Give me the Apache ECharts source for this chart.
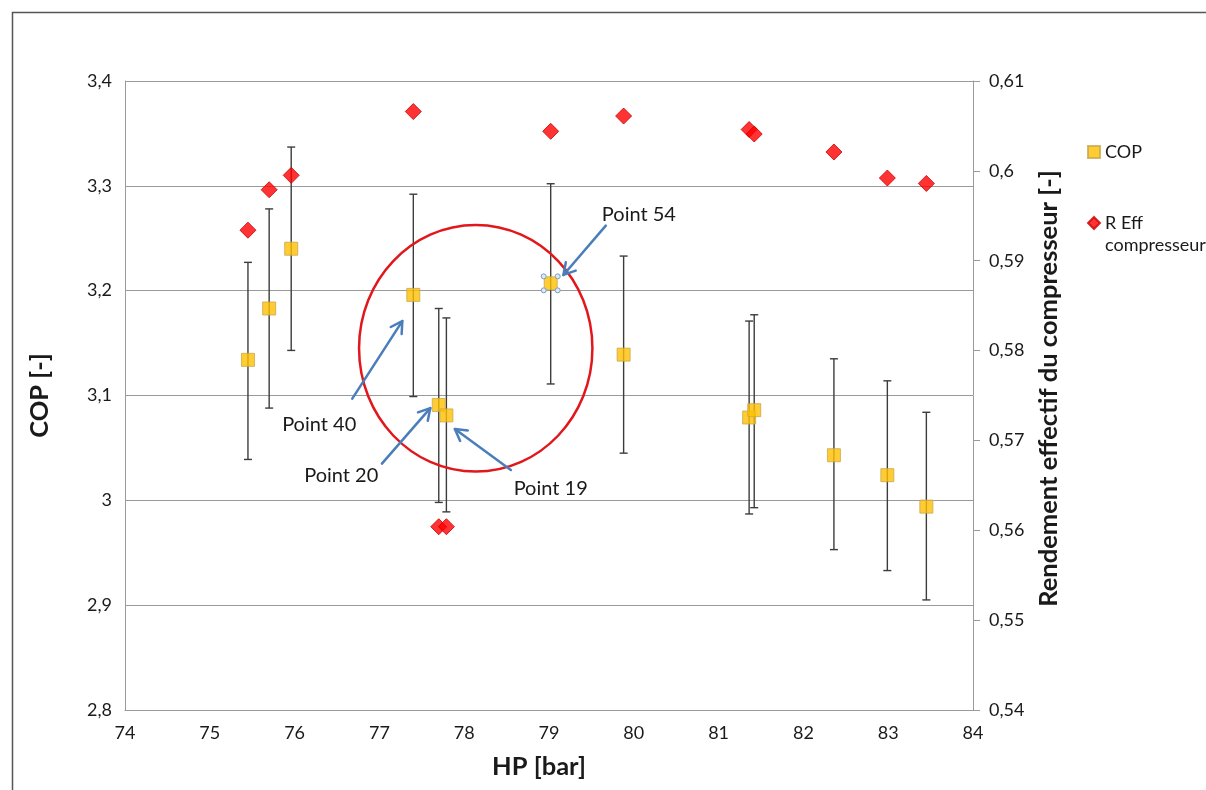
<!DOCTYPE html>
<html><head><meta charset="utf-8">
<script src="https://cdn.jsdelivr.net/npm/echarts@6/dist/echarts.min.js"></script>
<style>html,body{margin:0;padding:0;background:#fff}#c{width:1206px;height:790px}</style>
</head><body><div id="c"></div>
<script>
// ---- data ----
const hp      = [75.45, 75.70, 75.96, 77.40, 77.70, 77.79, 79.02, 79.88, 81.36, 81.42, 82.36, 82.99, 83.45];
const cop     = [3.134, 3.183, 3.240, 3.196, 3.091, 3.081, 3.207, 3.139, 3.079, 3.086, 3.043, 3.024, 2.994];
const copLow  = [3.039, 3.088, 3.143, 3.099, 2.998, 2.989, 3.111, 3.045, 2.987, 2.993, 2.953, 2.933, 2.905];
const copHigh = [3.227, 3.278, 3.337, 3.292, 3.183, 3.174, 3.302, 3.233, 3.171, 3.177, 3.135, 3.114, 3.084];
const rEff    = [0.5934, 0.5979, 0.5995, 0.6066, 0.5604, 0.5604, 0.6044, 0.6061, 0.6046, 0.6041, 0.6021, 0.5992, 0.5986];
const selectedIndex = 6; // Point 54

const annotationLabels = ['Point 40', 'Point 20', 'Point 19', 'Point 54'];
const labelX   = [76.29, 76.55, 79.02, 80.06];
const labelY   = [3.072, 3.024, 3.011, 3.273];
const arrowFromX = [76.68, 77.03, 78.55, 79.67];
const arrowFromY = [3.097, 3.035, 3.029, 3.262];
const arrowToX   = [77.27, 77.60, 77.89, 79.17];
const arrowToY   = [3.171, 3.088, 3.068, 3.215];
const ellipseCenter = [78.136, 3.145];
const ellipseRadius = [1.376, 0.1176];

// ---- build ----
const FONT = 'Lato';
const TXT = '#1a1a1a';
const GRID = '#9a9a9a';

const copData = hp.map((x, i) => [x, cop[i]]);
const effData = hp.map((x, i) => [x, rEff[i]]);
const errData = hp.map((x, i) => [x, copLow[i], copHigh[i]]);
const arrowData = arrowFromX.map((x, i) => [x, arrowFromY[i], arrowToX[i], arrowToY[i]]);
const labelData = labelX.map((x, i) => [x, labelY[i], annotationLabels[i]]);

const fmtComma = (d) => v => String(Math.round(v * d) / d).replace('.', ',');

const chart = echarts.init(document.getElementById('c'), null, {renderer: 'canvas'});
chart.setOption({
  backgroundColor: '#fff',
  animation: false,
  graphic: [{
    type: 'rect', silent: true, z: -10,
    shape: {x: 12.5, y: 12.5, width: 1400, height: 1000},
    style: {fill: 'none', stroke: '#555', lineWidth: 1.5}
  }],
  grid: {left: 125, right: 233, top: 81, bottom: 80, containLabel: false},
  legend: [{
    orient: 'vertical', left: 1082, top: 138,
    itemWidth: 12, itemHeight: 12,
    data: [{name: 'COP', icon: 'rect'}],
    textStyle: {fontFamily: FONT, fontSize: 18, color: TXT}
  }, {
    orient: 'vertical', left: 1082, top: 185,
    itemWidth: 12, itemHeight: 12,
    data: [{name: 'R Eff compresseur', icon: 'diamond'}],
    formatter: () => ' \nR Eff\ncompresseur',
    textStyle: {fontFamily: FONT, fontSize: 18, color: TXT, lineHeight: 22}
  }],
  xAxis: {
    type: 'value', min: 74, max: 84, interval: 1,
    name: 'HP [bar]', nameLocation: 'middle', nameGap: 44,
    nameTextStyle: {fontFamily: FONT, fontSize: 25.5, fontWeight: 'bold', color: TXT, padding: [0, 20, 0, 0]},
    axisLine: {show: true, onZero: false, lineStyle: {color: GRID, width: 1}},
    axisTick: {show: false},
    splitLine: {show: false},
    axisLabel: {fontFamily: FONT, fontSize: 18, color: TXT, margin: 14}
  },
  yAxis: [{
    type: 'value', min: 2.8, max: 3.4, interval: 0.1, position: 'left',
    name: 'COP [-]', nameLocation: 'middle', nameGap: 72,
    nameTextStyle: {fontFamily: FONT, fontSize: 25.5, fontWeight: 'bold', color: TXT},
    axisLine: {show: true, lineStyle: {color: GRID, width: 1}},
    axisTick: {show: false},
    splitLine: {show: true, lineStyle: {color: GRID, width: 1}},
    axisLabel: {fontFamily: FONT, fontSize: 18, color: TXT, margin: 13, formatter: fmtComma(10)}
  }, {
    type: 'value', min: 0.54, max: 0.61, interval: 0.01, position: 'right',
    name: 'Rendement effectif du compresseur [-]', nameLocation: 'middle', nameGap: 61,
    nameTextStyle: {fontFamily: FONT, fontSize: 25.5, fontWeight: 'bold', color: TXT, padding: [0, 0, 0, 14]},
    axisLine: {show: true, lineStyle: {color: GRID, width: 1}},
    axisTick: {show: true, inside: false, length: 7, lineStyle: {color: GRID}},
    splitLine: {show: false},
    axisLabel: {fontFamily: FONT, fontSize: 18, color: TXT, margin: 16, formatter: fmtComma(100)}
  }],
  series: [{
    name: 'errorbars', type: 'custom', yAxisIndex: 0, z: 2,
    data: errData,
    renderItem: (params, api) => {
      const x = api.value(0);
      const lo = api.coord([x, api.value(1)]);
      const hi = api.coord([x, api.value(2)]);
      const cap = 4;
      const st = {stroke: '#3c3c3c', lineWidth: 1.4};
      return {type: 'group', children: [
        {type: 'line', shape: {x1: lo[0], y1: lo[1], x2: hi[0], y2: hi[1]}, style: st},
        {type: 'line', shape: {x1: lo[0] - cap, y1: lo[1], x2: lo[0] + cap, y2: lo[1]}, style: st},
        {type: 'line', shape: {x1: hi[0] - cap, y1: hi[1], x2: hi[0] + cap, y2: hi[1]}, style: st}
      ]};
    }
  }, {
    name: 'COP', type: 'scatter', yAxisIndex: 0, z: 4,
    symbol: 'rect', symbolSize: 13,
    itemStyle: {color: '#FFC000', borderColor: '#C8A84C', borderWidth: 1},
    data: copData
  }, {
    name: 'R Eff compresseur', type: 'scatter', yAxisIndex: 1, z: 5,
    symbol: 'diamond', symbolSize: 16,
    itemStyle: {color: '#FF0000', borderColor: '#C80000', borderWidth: 1},
    data: effData
  }, {
    name: 'selection', type: 'custom', yAxisIndex: 0, z: 6,
    data: [copData[selectedIndex]],
    renderItem: (params, api) => {
      const p = api.coord([api.value(0), api.value(1)]);
      const d = 7;
      const pts = [[-d, -d], [d, -d], [-d, d], [d, d]];
      return {type: 'group', children: pts.map(o => ({
        type: 'circle', shape: {cx: p[0] + o[0], cy: p[1] + o[1], r: 2.5},
        style: {fill: '#dfe8f5', stroke: '#7a9cc6', lineWidth: 1}
      }))};
    }
  }, {
    name: 'ellipse', type: 'custom', yAxisIndex: 0, z: 7,
    data: [[ellipseCenter[0], ellipseCenter[1], ellipseRadius[0], ellipseRadius[1]]],
    renderItem: (params, api) => {
      const c = api.coord([api.value(0), api.value(1)]);
      const s = api.size([api.value(2), api.value(3)]);
      return {type: 'ellipse', shape: {cx: c[0], cy: c[1], rx: s[0], ry: s[1]},
        style: {fill: 'none', stroke: '#E2171B', lineWidth: 2.5}};
    }
  }, {
    name: 'arrows', type: 'custom', yAxisIndex: 0, z: 8,
    data: arrowData,
    renderItem: (params, api) => {
      const a = api.coord([api.value(0), api.value(1)]);
      const b = api.coord([api.value(2), api.value(3)]);
      const ang = Math.atan2(b[1] - a[1], b[0] - a[0]);
      const L = 13, w = Math.PI / 6;
      const h1 = [b[0] - L * Math.cos(ang - w), b[1] - L * Math.sin(ang - w)];
      const h2 = [b[0] - L * Math.cos(ang + w), b[1] - L * Math.sin(ang + w)];
      const st = {stroke: '#4A7EBB', lineWidth: 2.5, fill: 'none', lineCap: 'round', lineJoin: 'round'};
      return {type: 'group', children: [
        {type: 'line', shape: {x1: a[0], y1: a[1], x2: b[0], y2: b[1]}, style: st},
        {type: 'polyline', shape: {points: [h1, b, h2]}, style: st}
      ]};
    }
  }, {
    name: 'labels', type: 'custom', yAxisIndex: 0, z: 9,
    data: labelData,
    renderItem: (params, api) => {
      const p = api.coord([api.value(0), api.value(1)]);
      return {type: 'text', x: p[0], y: p[1], style: {
        text: labelData[params.dataIndex][2], fontFamily: FONT, fontSize: 20,
        fill: TXT, align: 'center', verticalAlign: 'middle'}};
    }
  }]
});
</script></body></html>
